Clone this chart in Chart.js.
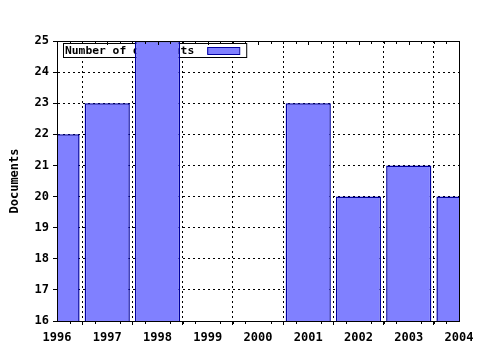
<!DOCTYPE html>
<html>
<head>
<meta charset="utf-8">
<script src="https://cdn.jsdelivr.net/npm/chart.js@4"></script>
<style>
body{margin:0;background:#fff;}
#wrap{width:480px;height:350px;}
</style>
</head>
<body>
<div id="wrap"><canvas id="docChart" width="480" height="350"></canvas></div>
<script>
const years = ["1996","1997","1998","1999","2000","2001","2002","2003","2004"];
const docs = [22,23,25,null,null,23,20,21,20];
const yTicks = [16,17,18,19,20,21,22,23,24,25];

const FONT = "'DejaVu Sans Mono', monospace";

// frame, minor ticks and the boxed legend
const decor = {
  id:"decor",
  beforeDatasetsDraw(chart){
    const c = chart.ctx, a = chart.chartArea;
    c.save();
    c.font = "bold 11.3px " + FONT;
    const label = chart.data.datasets[0].label;
    const tw = c.measureText(label).width;
    const lx = Math.round(a.left) + 6, ly = Math.round(a.top) + 2, lh = 14, sw = 32;
    const lw = tw + sw + 22;
    c.fillStyle = "#fff";
    c.fillRect(lx, ly, lw, lh);
    c.strokeStyle = "#000";
    c.lineWidth = 1;
    c.strokeRect(lx + 0.5, ly + 0.5, lw, lh);
    c.fillStyle = "#000";
    c.textBaseline = "middle";
    c.fillText(label, lx + 2, ly + lh/2 + 1);
    const sx = lx + lw - sw - 7;
    c.fillStyle = "#8080ff";
    c.fillRect(sx, ly + 4, sw, 7);
    c.strokeStyle = "#0000a0";
    c.strokeRect(sx + 0.5, ly + 4.5, sw, 7);
    c.restore();
  },
  afterDraw(chart){
    const c = chart.ctx, a = chart.chartArea, x = chart.scales.x;
    c.save();
    c.strokeStyle = "#000";
    c.lineWidth = 1;
    c.strokeRect(Math.round(a.left) + 0.5, Math.round(a.top) + 0.5, Math.round(a.right - a.left), Math.round(a.bottom - a.top));
    c.beginPath();
    for (let i = 0; i < years.length - 1; i++) {
      for (let q = 1; q < 4; q++) {
        const px = Math.round(x.getPixelForValue(i + q/4)) + 0.5;
        c.moveTo(px, a.top); c.lineTo(px, a.top + 3);
        c.moveTo(px, a.bottom); c.lineTo(px, a.bottom + 3);
      }
    }
    for (let i = 0; i < years.length; i++) {
      const px = Math.round(x.getPixelForValue(i)) + 0.5;
      c.moveTo(px, a.top); c.lineTo(px, a.top + 4);
    }
    c.stroke();
    c.restore();
  }
};

new Chart(document.getElementById("docChart"), {
  type:"bar",
  data:{
    labels:years,
    datasets:[{
      label:"Number of documents",
      data:docs,
      backgroundColor:"#8080ff",
      borderColor:"#0000a0",
      borderWidth:1.5,
      borderSkipped:false,
      barPercentage:0.9,
      categoryPercentage:1
    }]
  },
  options:{
    responsive:false,
    animation:false,
    events:[],
    layout:{padding:{top:41,right:21,left:0,bottom:0}},
    plugins:{legend:{display:false},tooltip:{enabled:false}},
    scales:{
      x:{
        offset:false,
        afterFit(s){ s.height = 29; },
        grid:{color:"#000",lineWidth:1,tickLength:4,tickColor:"#000"},
        border:{color:"#000",dash:[2,3]},
        ticks:{color:"#000",font:{family:FONT,size:12,weight:"bold"},maxRotation:0,autoSkip:false,padding:6}
      },
      y:{
        min:16,max:25,
        afterFit(s){ s.width = 57; },
        afterBuildTicks(s){ s.ticks = yTicks.map(v => ({value:v})); },
        grid:{color:"#000",lineWidth:1,tickLength:4,tickColor:"#000"},
        border:{color:"#000",dash:[2,3]},
        title:{display:true,text:"Documents",color:"#000",font:{family:FONT,size:12,weight:"bold"},padding:{top:8,bottom:0}},
        ticks:{color:"#000",font:{family:FONT,size:12,weight:"bold"},padding:4}
      }
    }
  },
  plugins:[decor]
});
</script>
</body>
</html>
